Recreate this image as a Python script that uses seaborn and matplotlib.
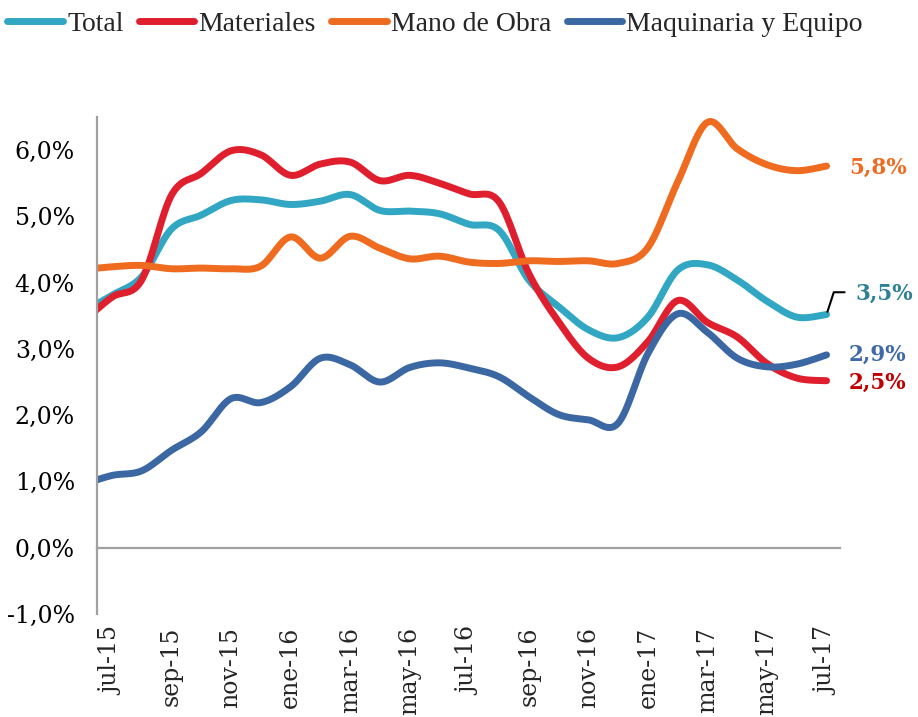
import numpy as np
import pandas as pd
import matplotlib
matplotlib.use("Agg")
import matplotlib.pyplot as plt
from matplotlib.lines import Line2D
from matplotlib.ticker import FuncFormatter, FixedLocator
import seaborn as sns

# meses (jun-15 queda parcialmente fuera del eje, como en el original)
meses = ['jun-15', 'jul-15', 'ago-15', 'sep-15', 'oct-15', 'nov-15', 'dic-15',
         'ene-16', 'feb-16', 'mar-16', 'abr-16', 'may-16', 'jun-16', 'jul-16',
         'ago-16', 'sep-16', 'oct-16', 'nov-16', 'dic-16', 'ene-17', 'feb-17',
         'mar-17', 'abr-17', 'may-17', 'jun-17', 'jul-17']
etiquetas_x = ['jul-15', 'sep-15', 'nov-15', 'ene-16', 'mar-16', 'may-16', 'jul-16',
               'sep-16', 'nov-16', 'ene-17', 'mar-17', 'may-17', 'jul-17']

total = [3.55, 3.81, 4.09, 4.81, 5.02, 5.24, 5.25, 5.18, 5.23, 5.33, 5.09, 5.08, 5.04,
         4.88, 4.79, 4.04, 3.64, 3.29, 3.17, 3.48, 4.19, 4.27, 4.04, 3.72, 3.48, 3.52]
materiales = [3.40, 3.78, 4.04, 5.32, 5.65, 5.99, 5.93, 5.62, 5.79, 5.82, 5.54, 5.62, 5.50,
              5.34, 5.22, 4.14, 3.41, 2.86, 2.73, 3.11, 3.73, 3.40, 3.18, 2.78, 2.56, 2.52]
mano_obra = [4.20, 4.24, 4.26, 4.21, 4.22, 4.21, 4.25, 4.69, 4.37, 4.70, 4.52, 4.36, 4.40,
             4.31, 4.29, 4.33, 4.32, 4.33, 4.29, 4.53, 5.52, 6.42, 6.02, 5.78, 5.69, 5.76]
maquinaria = [0.95, 1.09, 1.16, 1.47, 1.75, 2.25, 2.19, 2.43, 2.86, 2.76, 2.50, 2.72, 2.79,
              2.71, 2.58, 2.28, 2.01, 1.93, 1.88, 2.93, 3.53, 3.25, 2.86, 2.73, 2.77, 2.91]

series = {'Total': total, 'Materiales': materiales,
          'Mano de Obra': mano_obra, 'Maquinaria y Equipo': maquinaria}
colores = {'Total': '#31A7C4', 'Materiales': '#DF1F2D',
           'Mano de Obra': '#EE6B1F', 'Maquinaria y Equipo': '#3B67A3'}
col_etiqueta = {'Total': '#2E8196', 'Materiales': '#C00000',
                'Mano de Obra': '#EE6B1F', 'Maquinaria y Equipo': '#4069A8'}

x_mes = np.arange(len(meses)) - 1  # jul-15 = 0


def suavizar(x, y, n=30):
    # curva suavizada tipo Excel (Bezier / Catmull-Rom)
    P = np.column_stack([x, y]).astype(float)
    Pp = np.vstack([P[0], P, P[-1]])
    t = np.linspace(0, 1, n, endpoint=False)[:, None]
    partes = []
    for i in range(len(P) - 1):
        j = i + 1
        p0, p3 = Pp[j], Pp[j + 1]
        c1 = p0 + (Pp[j + 1] - Pp[j - 1]) / 6
        c2 = p3 - (Pp[j + 2] - Pp[j]) / 6
        partes.append((1 - t) ** 3 * p0 + 3 * (1 - t) ** 2 * t * c1
                      + 3 * (1 - t) * t ** 2 * c2 + t ** 3 * p3)
    partes.append(P[-1:])
    return np.vstack(partes)


filas = []
for nombre, valores in series.items():
    curva = suavizar(x_mes, valores)
    filas.append(pd.DataFrame({'x': curva[:, 0], 'valor': curva[:, 1], 'serie': nombre}))
df = pd.concat(filas, ignore_index=True)

sns.set_style('white')
plt.rcParams['font.family'] = ['DejaVu Serif']

fig = plt.figure(figsize=(9.18, 7.17), dpi=100)
ax = fig.add_axes([0.1057, 0.1437, 0.8093, 0.6931])

sns.lineplot(data=df, x='x', y='valor', hue='serie', hue_order=list(series.keys()),
             palette=colores, linewidth=5, estimator=None, sort=False, ax=ax,
             legend=False)
for ln in ax.get_lines():
    ln.set_solid_capstyle('round')

gris = '#A0A0A0'
ax.set_xlim(-0.5, 24.45)
ax.set_ylim(-1, 6.5)
sns.despine(ax=ax)
ax.spines['bottom'].set_position(('data', 0))
ax.spines['left'].set_color(gris)
ax.spines['bottom'].set_color(gris)
ax.spines['left'].set_linewidth(1.6)
ax.spines['bottom'].set_linewidth(1.6)

ax.set_yticks(np.arange(-1, 7, 1))
ax.yaxis.set_major_formatter(FuncFormatter(lambda v, p: f'{v:.1f}%'.replace('.', ',')))
ax.tick_params(axis='y', direction='in', length=6, width=1.6, color=gris,
               labelsize=17, pad=16, labelcolor='black')

ax.set_xticks(np.arange(0, 25, 2))
ax.set_xticklabels(etiquetas_x, rotation=90)
ax.xaxis.set_minor_locator(FixedLocator(np.arange(1.5, 24, 2)))
ax.tick_params(axis='x', which='major', length=0, labelsize=17, pad=57)
ax.tick_params(axis='x', which='minor', direction='in', length=5, width=1.4, color=gris)
ax.set_xlabel('')
ax.set_ylabel('')

# etiquetas del último valor
fuente_lbl = dict(fontsize=15.5, fontweight='bold', va='center', ha='left',
                  textcoords='offset points', annotation_clip=False)
ult = x_mes[-1]
ax.annotate(f'{mano_obra[-1]:.1f}%'.replace('.', ','), xy=(ult, mano_obra[-1]),
            xytext=(16, -1), color=col_etiqueta['Mano de Obra'], **fuente_lbl)
ax.annotate(f'{total[-1]:.1f}%'.replace('.', ','), xy=(ult, total[-1]),
            xytext=(21, 15), color=col_etiqueta['Total'], **fuente_lbl)
ax.annotate('', xy=(ult, total[-1]), xytext=(13, 16), textcoords='offset points',
            annotation_clip=False,
            arrowprops=dict(arrowstyle='-', color='black', lw=1.5, shrinkA=0, shrinkB=2,
                            connectionstyle='angle,angleA=0,angleB=72,rad=0'))
ax.annotate(f'{maquinaria[-1]:.1f}%'.replace('.', ','), xy=(ult, maquinaria[-1]),
            xytext=(16, 0), color=col_etiqueta['Maquinaria y Equipo'], **fuente_lbl)
ax.annotate(f'{materiales[-1]:.1f}%'.replace('.', ','), xy=(ult, materiales[-1]),
            xytext=(16, -1.5), color=col_etiqueta['Materiales'], **fuente_lbl)

handles = [Line2D([], [], color=colores[n], lw=5, solid_capstyle='round') for n in series]
fig.legend(handles, list(series.keys()), loc='upper left', bbox_to_anchor=(0.008, 0.984),
           ncol=4, frameon=False, handlelength=2.0, handletextpad=0.15,
           columnspacing=0.55, borderpad=0, borderaxespad=0,
           prop={'family': 'Liberation Serif', 'size': 20})

fig.savefig('out.png', dpi=100)
